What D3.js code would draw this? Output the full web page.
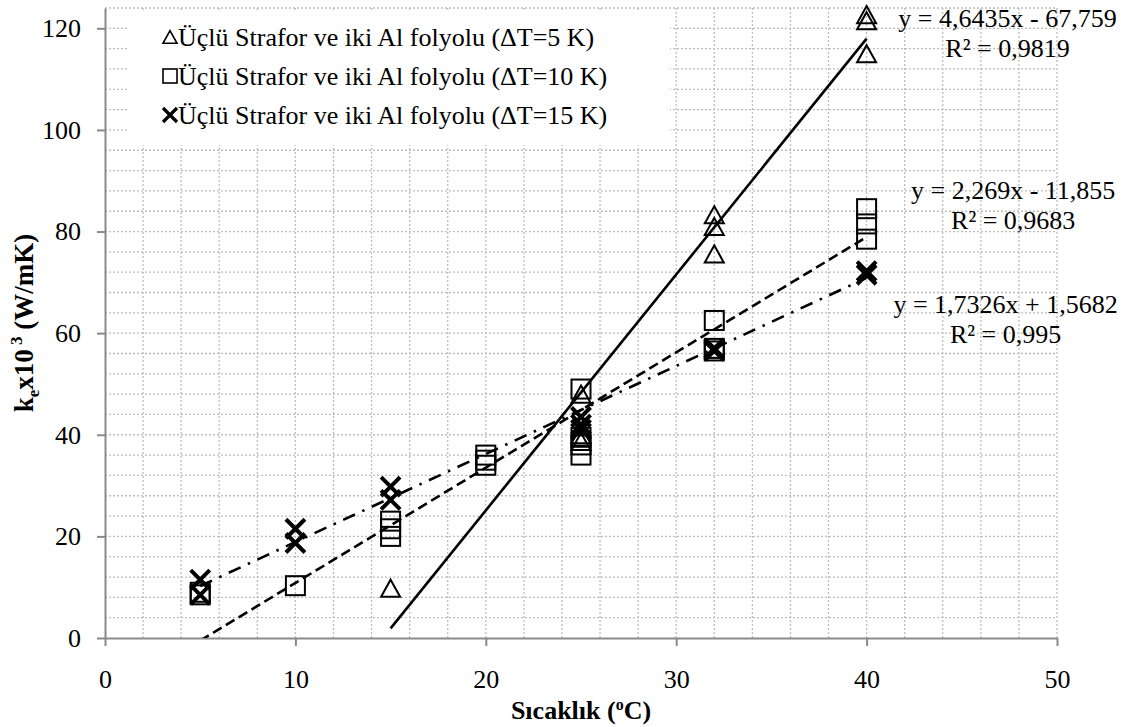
<!DOCTYPE html>
<html>
<head>
<meta charset="utf-8">
<script src="https://cdn.jsdelivr.net/npm/d3@7"></script>
<style>
  body { margin: 0; background: #fff; }
  svg { display: block; }
  svg text { font-family: "Liberation Serif", "Times New Roman", serif; }
</style>
</head>
<body>
<div id="chart"></div>
<script>
// Series values (x = temperature in °C, y = k_e x10^3)
const tempsDT5 = [15, 25, 25, 25, 32, 32, 32, 40, 40, 40];
const kDT5 = [9.8, 48, 40, 38.7, 83.3, 81, 75.6, 122.7, 121.5, 115];

const tempsDT10 = [5, 5, 10, 15, 15, 15, 20, 20, 20, 25, 25, 25, 25, 32, 32, 32, 40, 40, 40];
const kDT10 = [8.5, 9, 10.3, 23, 21.5, 20, 36, 35, 34, 49, 39.5, 38, 36, 62.5, 57, 56.5, 84.5, 81.5, 78.5];

const tempsDT15 = [5, 5, 10, 10, 15, 15, 25, 25, 25, 32, 32, 40, 40];
const kDT15 = [11.5, 8.5, 21.5, 18.7, 29.8, 27.2, 43.5, 42, 41, 57, 56.5, 72.2, 71.5];

const seriesNames = [
  "Üçlü Strafor ve iki Al folyolu (ΔT=5 K)",
  "Üçlü Strafor ve iki Al folyolu (ΔT=10 K)",
  "Üçlü Strafor ve iki Al folyolu (ΔT=15 K)",
];

// linear trend lines as printed on the chart
const trendSlopes = [4.6435, 2.269, 1.7326];
const trendIntercepts = [-67.759, -11.855, 1.5682];
const trendEquations = ["y = 4,6435x - 67,759", "y = 2,269x - 11,855", "y = 1,7326x + 1,5682"];
const trendR2 = ["R² = 0,9819", "R² = 0,9683", "R² = 0,995"];
// where each equation block sits, in data units (centre x, first baseline y)
const eqAnchorX = [47.4, 47.7, 47.3];
const eqAnchorY = [120.3, 86.4, 64];

const xTicks = [0, 10, 20, 30, 40, 50];
const yTicks = [0, 20, 40, 60, 80, 100, 120];

const width = 1133;
const height = 727;
const margin = { top: 8, right: 76, bottom: 89, left: 105 };
const serif = "Liberation Serif";

const x = d3.scaleLinear().domain([0, 50]).range([margin.left, width - margin.right]);
const y = d3.scaleLinear().domain([0, 124]).range([height - margin.bottom, margin.top]);

const svg = d3.select("#chart").append("svg")
  .attr("width", width)
  .attr("height", height)
  .attr("font-family", serif);

svg.append("rect").attr("width", width).attr("height", height).attr("fill", "#fff");

// Gridlines (minor + major share the same dotted style)
const grid = svg.append("g").attr("stroke", "#bdbdbd").attr("stroke-width", 1.3)
  .attr("stroke-dasharray", "2,2");
grid.selectAll("line.v")
  .data(d3.range(2, 50.1, 2))
  .join("line")
  .attr("class", "v")
  .attr("x1", (d) => x(d)).attr("x2", (d) => x(d))
  .attr("y1", y(124)).attr("y2", y(0));
grid.selectAll("line.h")
  .data(d3.range(4, 124.1, 4))
  .join("line")
  .attr("class", "h")
  .attr("x1", x(0)).attr("x2", x(50))
  .attr("y1", (d) => y(d)).attr("y2", (d) => y(d));

// Axes
const axisColor = "#8a8a8a";
const yAxis = svg.append("g")
  .attr("transform", `translate(${x(0)},0)`)
  .call(d3.axisLeft(y).tickValues(yTicks).tickSize(8).tickSizeOuter(0).tickPadding(16));
const xAxis = svg.append("g")
  .attr("transform", `translate(0,${y(0)})`)
  .call(d3.axisBottom(x).tickValues(xTicks).tickSize(8).tickSizeOuter(0).tickPadding(24));

[xAxis, yAxis].forEach((g) => {
  g.attr("font-family", serif).attr("font-size", 26);
  g.select(".domain").attr("stroke", axisColor).attr("stroke-width", 2);
  g.selectAll(".tick line").attr("stroke", axisColor).attr("stroke-width", 2);
  g.selectAll(".tick text").attr("fill", "#000");
});

// Plot clip for the trend lines
svg.append("defs").append("clipPath").attr("id", "plot-clip")
  .append("rect")
  .attr("x", x(0)).attr("y", y(124))
  .attr("width", x(50) - x(0)).attr("height", y(0) - y(124));

const series = [
  { xs: tempsDT5, ys: kDT5, marker: "triangle", dash: null },
  { xs: tempsDT10, ys: kDT10, marker: "square", dash: "10,5" },
  { xs: tempsDT15, ys: kDT15, marker: "cross", dash: "13,8,2.5,8" },
];

// Trend lines from first to last measured temperature
const trends = svg.append("g").attr("clip-path", "url(#plot-clip)");
series.forEach((s, i) => {
  const [x0, x1] = d3.extent(s.xs);
  const f = (t) => trendSlopes[i] * t + trendIntercepts[i];
  trends.append("path")
    .datum([x0, x1])
    .attr("fill", "none")
    .attr("stroke", "#000")
    .attr("stroke-width", 2.6)
    .attr("stroke-dasharray", s.dash)
    .attr("d", d3.line().x((t) => x(t)).y((t) => y(f(t))));
});

// Marker shapes
const drawMarker = (sel, kind, w) => {
  if (kind === "triangle") {
    const h = w * 0.9;
    sel.append("path")
      .attr("d", `M0,${-h / 2}L${w / 2},${h / 2}L${-w / 2},${h / 2}Z`)
      .attr("fill", "none").attr("stroke", "#000").attr("stroke-width", w > 15 ? 2 : 1.6);
  } else if (kind === "square") {
    sel.append("rect")
      .attr("x", -w / 2).attr("y", -w / 2).attr("width", w).attr("height", w)
      .attr("fill", "none").attr("stroke", "#000").attr("stroke-width", w > 15 ? 2 : 1.6);
  } else {
    const r = w / 2;
    sel.append("path")
      .attr("d", `M${-r},${-r}L${r},${r}M${-r},${r}L${r},${-r}`)
      .attr("fill", "none").attr("stroke", "#000").attr("stroke-width", w > 15 ? 4 : 3.2);
  }
};

const marks = svg.append("g");
series.forEach((s) => {
  const pts = s.xs.map((t, j) => [t, s.ys[j]]);
  marks.append("g").selectAll("g")
    .data(pts)
    .join("g")
    .attr("transform", (d) => `translate(${x(d[0])},${y(d[1])})`)
    .each(function () { drawMarker(d3.select(this), s.marker, 19); });
});

// Trend equations
const eqs = svg.append("g")
  .attr("text-anchor", "middle")
  .attr("font-size", 26)
  .attr("fill", "#000");
trendEquations.forEach((eq, i) => {
  const cx = x(eqAnchorX[i]);
  const by = y(eqAnchorY[i]);
  eqs.append("text").attr("x", cx).attr("y", by).text(eq);
  eqs.append("text").attr("x", cx).attr("y", by + 30).text(trendR2[i]);
});

// Legend (white box over the grid)
const legend = svg.append("g");
legend.append("rect")
  .attr("x", 127).attr("y", 11).attr("width", 543).attr("height", 134)
  .attr("fill", "#fff");
seriesNames.forEach((name, i) => {
  const cy = 37 + i * 39;
  const g = legend.append("g").attr("transform", `translate(170,${cy})`);
  drawMarker(g, series[i].marker, 14);
  legend.append("text")
    .attr("x", 178).attr("y", cy + 9)
    .attr("font-size", 26)
    .text(name);
});

// Axis titles
svg.append("text")
  .attr("x", (x(0) + x(50)) / 2)
  .attr("y", 719)
  .attr("text-anchor", "middle")
  .attr("font-size", 26)
  .attr("font-weight", "bold")
  .call((t) => {
    t.append("tspan").text("Sıcaklık (");
    t.append("tspan").attr("font-size", 16).attr("dy", -9).text("o");
    t.append("tspan").attr("dy", 9).text("C)");
  });

svg.append("text")
  .attr("transform", `translate(33,${(y(0) + y(124)) / 2}) rotate(-90)`)
  .attr("text-anchor", "middle")
  .attr("font-size", 27)
  .attr("font-weight", "bold")
  .call((t) => {
    t.append("tspan").text("k");
    t.append("tspan").attr("font-size", 17).attr("dy", 6).text("e");
    t.append("tspan").attr("dy", -6).text("x10");
    t.append("tspan").attr("font-size", 17).attr("dy", -11).text(" 3");
    t.append("tspan").attr("dy", 11).text(" (W/mK)");
  });
</script>
</body>
</html>
